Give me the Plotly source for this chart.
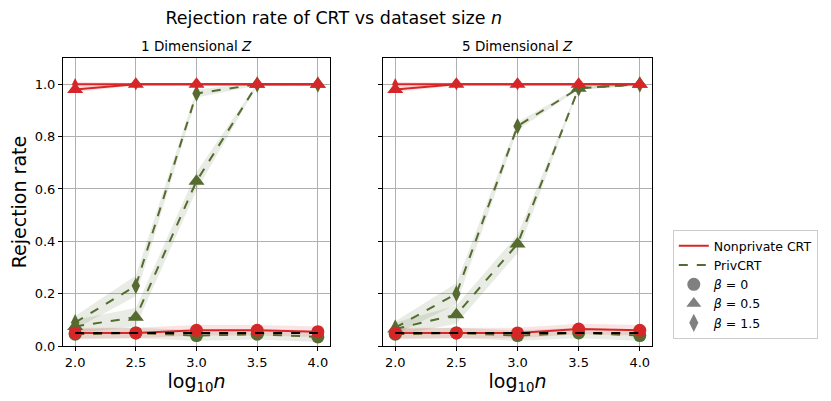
import plotly.graph_objects as go
from plotly.subplots import make_subplots

log_n = [2.0, 2.5, 3.0, 3.5, 4.0]
alpha_level = [0.05, 0.05, 0.05, 0.05, 0.05]

# 1 dimensional Z
np1_b0 = [0.05, 0.05, 0.06, 0.06, 0.055]
np1_b05 = [0.98, 1.0, 1.0, 1.0, 1.0]
np1_b15 = [1.0, 1.0, 1.0, 1.0, 1.0]
pv1_b0 = [0.045, 0.05, 0.04, 0.045, 0.035]
pv1_b05 = [0.075, 0.11, 0.63, 1.0, 1.0]
pv1_b15 = [0.09, 0.23, 0.965, 1.0, 1.0]

# 5 dimensional Z
np5_b0 = [0.05, 0.05, 0.05, 0.065, 0.06]
np5_b05 = [0.98, 1.0, 1.0, 1.0, 1.0]
np5_b15 = [1.0, 1.0, 1.0, 1.0, 1.0]
pv5_b0 = [0.045, 0.05, 0.04, 0.05, 0.04]
pv5_b05 = [0.065, 0.12, 0.39, 0.985, 1.0]
pv5_b15 = [0.07, 0.20, 0.84, 0.985, 1.0]

# half widths of the shaded bands
err_np_low = [0.02, 0.02, 0.02, 0.02, 0.02]
err_np_high = [0.01, 0.005, 0.005, 0.005, 0.005]
err_pv_low = [0.02, 0.02, 0.02, 0.02, 0.02]
err_pv_b05 = [0.025, 0.035, 0.035, 0.005, 0.005]
err_pv_b15 = [0.025, 0.04, 0.015, 0.005, 0.005]

RED = "#d62728"
GREEN = "#556b2f"
RED_FILL = "rgba(214,39,40,0.13)"
GREEN_FILL = "rgba(85,107,47,0.13)"

# the page puts the figure 8px in from the top left, so domains are nudged for that
X_DOMAINS = [[0.0662, 0.3875], [0.4513, 0.775]]
Y_DOMAIN = [0.157, 0.875]

fig = make_subplots(rows=1, cols=2, shared_yaxes=True)


def add_series(y, err, color, fill, dash, symbol, size, col):
    upper = [v + e for v, e in zip(y, err)]
    lower = [v - e for v, e in zip(y, err)]
    fig.add_trace(go.Scatter(
        x=log_n + log_n[::-1], y=upper + lower[::-1], mode="lines",
        fill="toself", fillcolor=fill, line=dict(width=0),
        hoverinfo="skip", showlegend=False), row=1, col=col)
    fig.add_trace(go.Scatter(
        x=log_n, y=y, mode="lines+markers",
        line=dict(color=color, width=2, dash=dash),
        marker=dict(symbol=symbol, size=size, color=color),
        showlegend=False), row=1, col=col)


panels = [
    (1, [pv1_b0, pv1_b05, pv1_b15], [np1_b0, np1_b05, np1_b15]),
    (2, [pv5_b0, pv5_b05, pv5_b15], [np5_b0, np5_b05, np5_b15]),
]
symbols = ["circle", "triangle-up", "diamond-tall"]
for col, pv, npv in panels:
    for y, err, sym, sz in zip(pv, [err_pv_low, err_pv_b05, err_pv_b15], symbols, [13, 14, 12]):
        add_series(y, err, GREEN, GREEN_FILL, "dash", sym, sz, col)
    # red diamonds go first so the triangles sit on top of them
    red_order = [(npv[2], err_np_high, symbols[2], 9), (npv[0], err_np_low, symbols[0], 13),
                 (npv[1], err_np_high, symbols[1], 14)]
    for y, err, sym, sz in red_order:
        add_series(y, err, RED, RED_FILL, "solid", sym, sz, col)
    fig.add_trace(go.Scatter(x=log_n, y=alpha_level, mode="lines",
                             line=dict(color="black", width=2, dash="dash"),
                             showlegend=False), row=1, col=col)

# legend entries
fig.add_trace(go.Scatter(x=[None], y=[None], mode="lines", name="Nonprivate CRT",
                         line=dict(color=RED, width=2)))
fig.add_trace(go.Scatter(x=[None], y=[None], mode="lines", name="PrivCRT",
                         line=dict(color=GREEN, width=2, dash="dash")))
for sym, label in zip(symbols, ["<i>β</i> = 0", "<i>β</i> = 0.5", "<i>β</i> = 1.5"]):
    fig.add_trace(go.Scatter(x=[None], y=[None], mode="markers", name=label,
                             marker=dict(symbol=sym, size=13, color="gray")))

axis_style = dict(showgrid=True, gridcolor="#b0b0b0", gridwidth=1,
                  showline=True, linecolor="black", linewidth=1, mirror=True,
                  ticks="outside", ticklen=4, tickcolor="black", zeroline=False,
                  automargin=False, tickfont=dict(size=13, color="black"))

fig.update_xaxes(range=[1.9, 4.1], tickvals=log_n, ticktext=["2.0", "2.5", "3.0", "3.5", "4.0"],
                 title=dict(text="log<sub>10</sub><i>n</i>", font=dict(size=19, color="black"),
                            standoff=2),
                 **axis_style)
fig.update_yaxes(range=[0, 1.1], tickvals=[0, 0.2, 0.4, 0.6, 0.8, 1.0],
                 ticktext=["0.0", "0.2", "0.4", "0.6", "0.8", "1.0"], domain=Y_DOMAIN,
                 **axis_style)
fig.update_yaxes(title=dict(text="Rejection rate", font=dict(size=19, color="black"), standoff=4),
                 row=1, col=1)

subtitles = ["1 Dimensional <i>Z</i>", "5 Dimensional <i>Z</i>"]
for dom, text in zip(X_DOMAINS, subtitles):
    fig.add_annotation(text=text, x=(dom[0] + dom[1]) / 2, y=Y_DOMAIN[1],
                       xref="paper", yref="paper", xanchor="center", yanchor="bottom",
                       yshift=2, showarrow=False, font=dict(size=13.5, color="black"))

fig.update_layout(
    width=831, height=401,
    margin=dict(l=0, r=0, t=0, b=0),
    paper_bgcolor="white", plot_bgcolor="white",
    font=dict(family="DejaVu Sans", color="black"),
    title=dict(text="Rejection rate of CRT vs dataset size <i>n</i>",
               x=0.392, xanchor="center", y=0.975, yanchor="middle",
               font=dict(size=17.5, color="black")),
    xaxis=dict(domain=X_DOMAINS[0]),
    xaxis2=dict(domain=X_DOMAINS[1]),
    legend=dict(x=0.8, y=0.31, xanchor="left", yanchor="middle",
                bordercolor="#cccccc", borderwidth=1, bgcolor="white",
                font=dict(size=12.5, color="black"), tracegroupgap=0, itemwidth=30),
)

fig.write_html("out.html")
